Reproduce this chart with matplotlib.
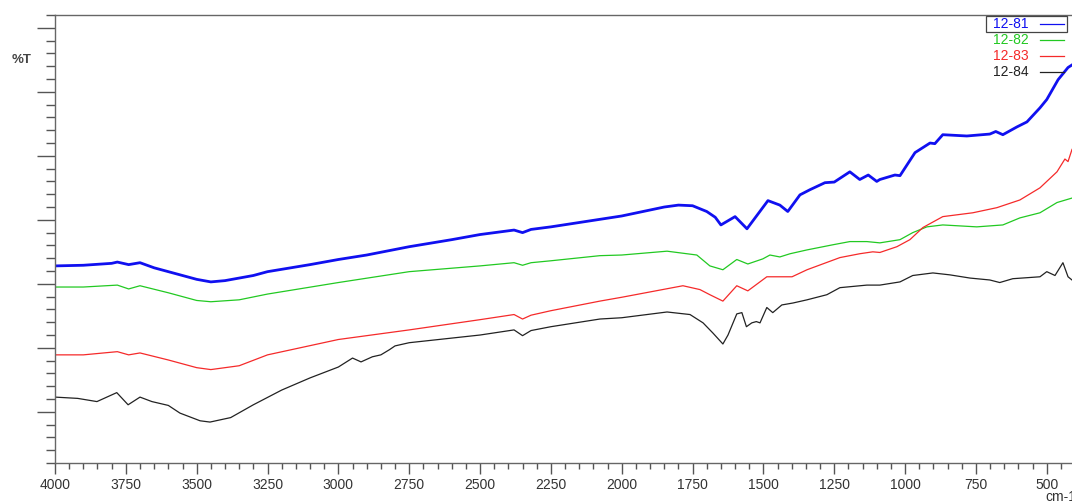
import numpy as np
import matplotlib.pyplot as plt
from matplotlib.lines import Line2D
from matplotlib.patches import Rectangle
from matplotlib.ticker import MultipleLocator

plt.rcParams["font.family"] = ["Liberation Sans", "DejaVu Sans"]

# wavenumber (cm-1) / %T
wn_81 = [4000, 3900, 3800, 3780, 3740, 3700, 3650, 3600, 3500, 3450, 3400, 3300, 3250,
         3100, 3000, 2900, 2750, 2600, 2500, 2380, 2350, 2320, 2250, 2000, 1850, 1800,
         1750, 1700, 1670, 1650, 1600, 1558, 1484, 1442, 1414, 1371, 1336, 1283, 1250,
         1195, 1160, 1130, 1100, 1089, 1036, 1018, 965, 912, 895, 867, 782, 701, 680,
         655, 606, 570, 524, 500, 460, 425, 411]
t_81 = [32.8, 32.9, 33.2, 33.4, 33.0, 33.3, 32.5, 31.9, 30.7, 30.3, 30.5, 31.3, 31.9,
        33.0, 33.8, 34.5, 35.8, 36.9, 37.7, 38.4, 38.0, 38.5, 38.9, 40.6, 42.0, 42.3,
        42.2, 41.3, 40.4, 39.2, 40.5, 38.6, 43.0, 42.3, 41.3, 43.9, 44.7, 45.8, 45.9,
        47.5, 46.3, 47.0, 46.0, 46.3, 47.0, 46.9, 50.5, 52.0, 51.9, 53.3, 53.1, 53.4,
        53.8, 53.3, 54.5, 55.3, 57.5, 58.8, 61.9, 63.8, 64.2]

wn_82 = [4000, 3900, 3780, 3740, 3700, 3600, 3500, 3450, 3350, 3250, 3000, 2750, 2500,
         2380, 2350, 2320, 2250, 2077, 2000, 1840, 1735, 1689, 1643, 1594, 1555, 1502,
         1477, 1442, 1406, 1346, 1255, 1195, 1135, 1089, 1018, 973, 923, 867, 747, 655,
         595, 524, 464, 411]
t_82 = [29.5, 29.5, 29.8, 29.2, 29.7, 28.6, 27.4, 27.2, 27.5, 28.4, 30.2, 31.9, 32.8,
        33.3, 32.9, 33.3, 33.6, 34.4, 34.5, 35.1, 34.5, 32.8, 32.2, 33.8, 33.1, 33.9,
        34.5, 34.2, 34.7, 35.3, 36.1, 36.6, 36.6, 36.4, 36.9, 38.0, 38.9, 39.2, 38.9,
        39.2, 40.3, 41.1, 42.7, 43.4]

wn_83 = [4000, 3900, 3780, 3740, 3700, 3600, 3500, 3450, 3350, 3250, 3000, 2750, 2500,
         2380, 2350, 2320, 2250, 2077, 2000, 1784, 1724, 1689, 1643, 1594, 1555, 1488,
         1442, 1399, 1346, 1230, 1160, 1114, 1089, 1029, 983, 937, 867, 761, 676, 595,
         524, 464, 436, 425, 411]
t_83 = [18.9, 18.9, 19.4, 18.9, 19.2, 18.1, 16.9, 16.6, 17.2, 18.9, 21.3, 22.8, 24.4,
        25.2, 24.5, 25.1, 25.8, 27.3, 27.9, 29.7, 29.1, 28.3, 27.3, 29.7, 28.9, 31.1,
        31.1, 31.1, 32.2, 34.1, 34.7, 35.0, 34.9, 35.8, 36.9, 38.8, 40.5, 41.1, 41.9,
        43.1, 45.0, 47.5, 49.5, 49.1, 51.0]

wn_84 = [4000, 3920, 3852, 3782, 3742, 3700, 3658, 3600, 3559, 3488, 3453, 3380, 3300,
         3200, 3100, 3000, 2950, 2920, 2880, 2850, 2820, 2800, 2750, 2500, 2380, 2350,
         2320, 2250, 2077, 2000, 1840, 1759, 1713, 1678, 1643, 1625, 1594, 1576, 1560,
         1541, 1525, 1512, 1488, 1467, 1435, 1396, 1346, 1276, 1230, 1135, 1089, 1018,
         973, 902, 842, 771, 701, 666, 620, 524, 500, 471, 443, 425, 411]
t_84 = [12.3, 12.1, 11.6, 13.0, 11.1, 12.3, 11.6, 11.0, 9.8, 8.6, 8.4, 9.1, 11.1,
        13.4, 15.3, 17.0, 18.4, 17.8, 18.6, 18.9, 19.7, 20.3, 20.8, 22.0, 22.8, 21.9,
        22.7, 23.3, 24.5, 24.7, 25.6, 25.2, 23.9, 22.3, 20.6, 22.0, 25.3, 25.5, 23.3,
        23.9, 24.1, 23.9, 26.3, 25.5, 26.7, 27.0, 27.5, 28.3, 29.4, 29.8, 29.8, 30.3,
        31.3, 31.7, 31.4, 30.9, 30.6, 30.2, 30.8, 31.1, 31.9, 31.3, 33.3, 31.1, 30.6]

names = ["12-81", "12-82", "12-83", "12-84"]
colors = ["#1010f0", "#22c922", "#f52a2a", "#222222"]
widths = [2.0, 0.9, 0.9, 0.9]
spectra = [(wn_81, t_81), (wn_82, t_82), (wn_83, t_83), (wn_84, t_84)]

fig = plt.figure(figsize=(10.72, 5.04), dpi=100)
ax = fig.add_axes([0.0513, 0.0813, 0.9487, 0.8889])

for (wn, t), c, lw in zip(spectra, colors, widths):
    ax.plot(wn, t, color=c, lw=lw)

ax.set_xlim(4000, 411)
ax.set_ylim(2, 72)
ax.xaxis.set_major_locator(MultipleLocator(250))
ax.xaxis.set_minor_locator(MultipleLocator(50))
ax.yaxis.set_major_locator(MultipleLocator(10))
ax.yaxis.set_minor_locator(MultipleLocator(2))
ax.tick_params(axis="x", which="major", length=8, width=1, color="#555555",
               labelsize=10, labelcolor="#333333", pad=3)
ax.tick_params(axis="x", which="minor", length=4.5, width=1, color="#555555")
ax.tick_params(axis="y", which="major", length=13, width=1, color="#555555", labelleft=False)
ax.tick_params(axis="y", which="minor", length=6.5, width=1, color="#555555")
for s in ["top", "left", "bottom"]:
    ax.spines[s].set_color("#666666")
    ax.spines[s].set_linewidth(1)
ax.spines["right"].set_visible(False)

fig.text(12 / 1072, 1 - 60 / 504, "%T", fontsize=9.5, color="#444444",
         ha="left", va="center", fontweight="bold")
fig.text(1045 / 1072, 1 - 497 / 504, "cm-1", fontsize=10, color="#333333",
         ha="left", va="center")

# legend, drawn by hand like the instrument software
W, H = 1072.0, 504.0
fig.patches.append(Rectangle((986 / W, 1 - 32 / H), 81 / W, 16 / H, transform=fig.transFigure,
                             fill=False, edgecolor="#444444", lw=0.9))
for i, (n, c) in enumerate(zip(names, colors)):
    yy = 1 - (24 + 16 * i) / H
    fig.text(993 / W, yy, n, fontsize=10, color=c, ha="left", va="center")
    fig.lines.append(Line2D([1040 / W, 1064 / W], [yy, yy], transform=fig.transFigure,
                            color=c, lw=0.9))

fig.savefig("out.png", dpi=100, facecolor="white")
